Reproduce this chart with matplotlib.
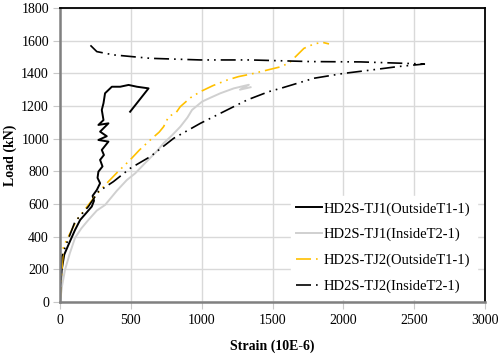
import matplotlib
matplotlib.use("Agg")
import matplotlib.pyplot as plt

# TJ1 outside gauge (black solid)
tj1_out_strain = [0, 5, 12, 30, 59, 85, 106, 142, 180, 224, 240, 230, 260, 283, 265, 271, 300, 283,
                  310, 295, 342, 271, 330, 283, 342, 271, 307, 295, 307, 318, 366, 425, 484, 543, 625, 495]
tj1_out_load = [0, 100, 196, 290, 349, 400, 441, 502, 540, 584, 620, 650, 686, 727, 760, 798, 830, 870,
                900, 931, 982, 992, 1015, 1043, 1094, 1084, 1114, 1176, 1217, 1278, 1318, 1318, 1329, 1318, 1308, 1165]

# TJ1 inside gauge (light grey)
tj1_in_strain = [0, 15, 35, 70, 106, 150, 200, 260, 318, 400, 472, 531, 600, 680, 731, 790, 849, 900,
                 932, 1003, 1060, 1132, 1227, 1333, 1270, 1345]
tj1_in_load = [0, 100, 196, 300, 392, 450, 502, 560, 594, 680, 747, 788, 850, 920, 972, 1020, 1073, 1130,
               1176, 1227, 1250, 1278, 1308, 1330, 1300, 1315]

# TJ2 outside gauge (orange)
tj2_out_strain = [0, 10, 24, 59, 118, 200, 250, 307, 400, 495, 560, 637, 700, 731, 767, 820, 849, 920,
                  991, 1080, 1180, 1260, 1345, 1486, 1557, 1620, 1651, 1722, 1793, 1852, 1899]
tj2_out_load = [0, 150, 339, 400, 502, 594, 650, 706, 790, 870, 930, 992, 1040, 1073, 1135, 1160, 1196, 1250,
                1288, 1325, 1359, 1380, 1395, 1425, 1440, 1465, 1492, 1553, 1580, 1590, 1580]

# TJ2 inside gauge (black dash-dot-dot)
tj2_in_strain = [0, 5, 12, 47, 106, 200, 271, 377, 495, 637, 802, 991, 1203, 1321, 1474, 1557, 1793,
                 2005, 2194, 2382, 2572, 2406, 2123, 1769, 1345, 991, 637, 377, 260, 200]
tj2_in_load = [0, 150, 278, 359, 492, 584, 676, 737, 818, 890, 1002, 1094, 1186, 1237, 1288, 1308, 1370,
               1400, 1420, 1441, 1457, 1462, 1470, 1472, 1482, 1482, 1492, 1513, 1533, 1584]

plt.rcParams['font.family'] = ['Liberation Serif', 'DejaVu Serif']

fig = plt.figure(figsize=(5, 3.56), dpi=100)
ax = fig.add_axes([0.12, 0.1517, 0.85, 0.8258])

dd = (0, (9, 3, 1, 3, 1, 3))
ax.plot(tj1_out_strain, tj1_out_load, color='black', lw=1.4, label='HD2S-TJ1(OutsideT1-1)')
ax.plot(tj1_in_strain, tj1_in_load, color='#d0d0d0', lw=1.4, label='HD2S-TJ1(InsideT2-1)')
ax.plot(tj2_out_strain, tj2_out_load, color='#FFC000', lw=1.2, ls=dd, label='HD2S-TJ2(OutsideT1-1)')
ax.plot(tj2_in_strain, tj2_in_load, color='black', lw=1.2, ls=dd, label='HD2S-TJ2(InsideT2-1)')

ax.set_xlim(0, 3000)
ax.set_ylim(0, 1800)
ax.set_xticks(range(0, 3001, 500))
ax.set_yticks(range(0, 1801, 200))
ax.grid(True, color='#d9d9d9', lw=1)
ax.set_axisbelow(True)
ax.tick_params(axis='y', direction='out', length=5, width=0.8, color='#c8c8c8', labelsize=10, pad=3)
ax.tick_params(axis='x', direction='out', length=5, width=0.8, color='#c8c8c8', labelsize=10, pad=4)

for s in ['left', 'bottom']:
    ax.spines[s].set_color('#808080')
    ax.spines[s].set_linewidth(1.8)
for s in ['top', 'right']:
    ax.spines[s].set_color('black')
    ax.spines[s].set_linewidth(1.3)

ax.set_xlabel('Strain (10E-6)', fontsize=10, fontweight='bold', labelpad=9)
ax.set_ylabel('Load (kN)', fontsize=10, fontweight='bold', labelpad=3)

leg = ax.legend(loc='lower right', bbox_to_anchor=(0.98, 0.01), fontsize=10.5, frameon=True,
                fancybox=False, framealpha=1, edgecolor='white', borderaxespad=0, borderpad=0.4,
                handlelength=1.75, labelspacing=0.85, handletextpad=0.15)
leg.set_zorder(2)

fig.savefig('out.png', dpi=100)
